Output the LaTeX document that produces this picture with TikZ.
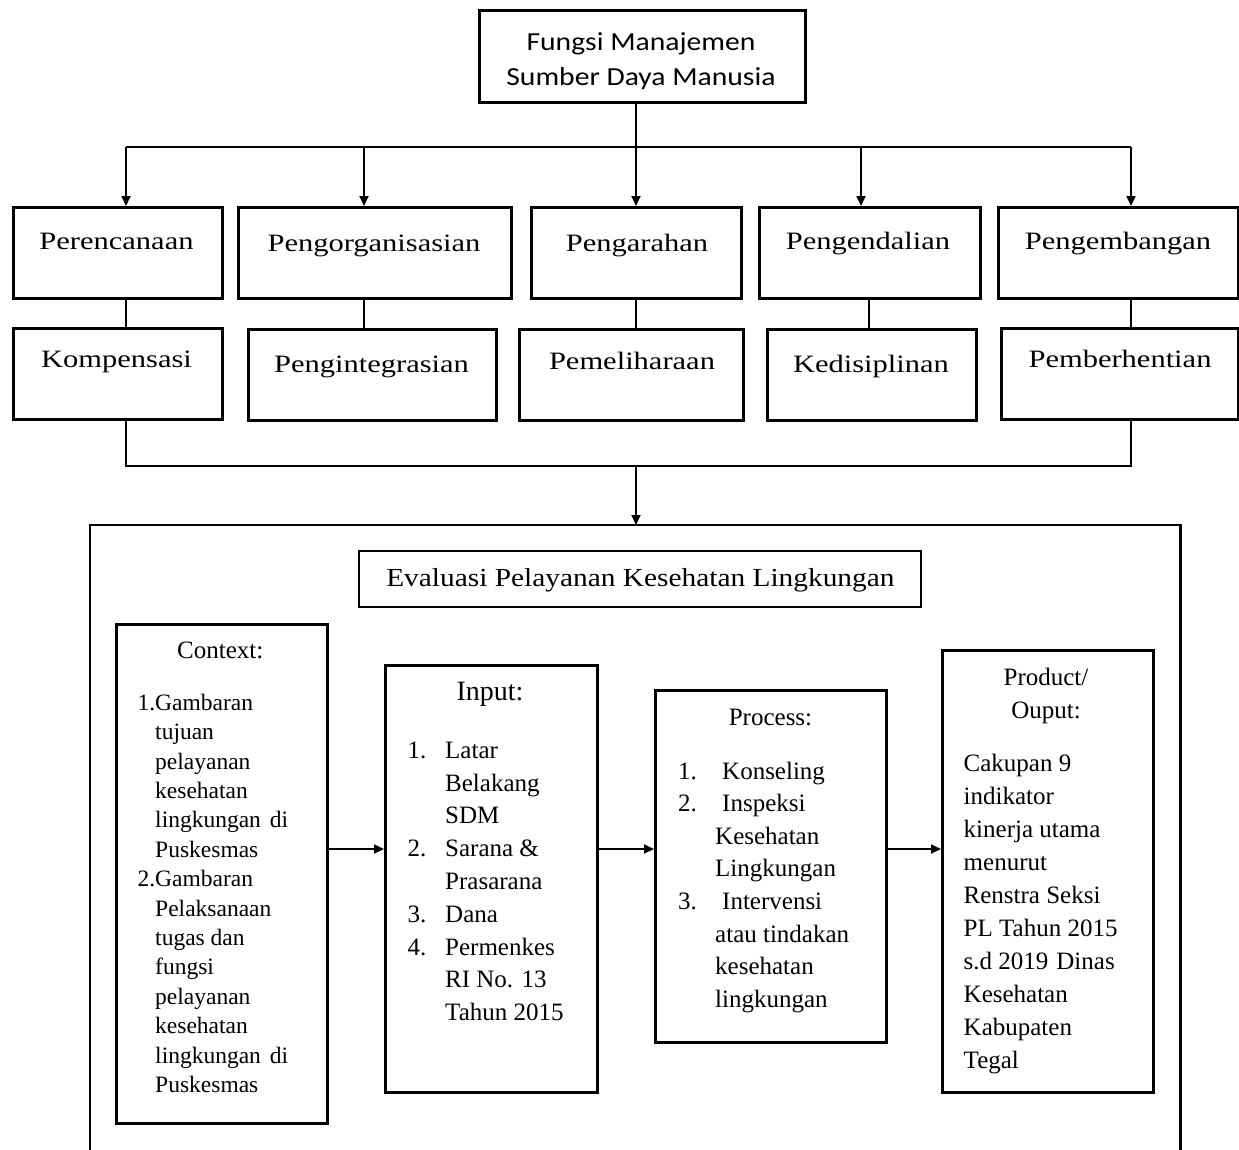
\documentclass[tikz,border=0pt]{standalone}
\usepackage{fontspec}
\setmainfont{Liberation Serif}
\newfontfamily\carl[FakeStretch=1.14]{Carlito}
\newfontfamily\wser[FakeStretch=1.22]{Liberation Serif}
\newfontfamily\tser[FakeStretch=1.13]{Liberation Serif}
\usetikzlibrary{arrows.meta}
\begin{document}
\begin{tikzpicture}[x=1pt,y=-1pt,
  box/.style={draw, line width=2.6pt, anchor=north west, inner sep=0pt},
  conn/.style={line width=1.8pt},
  thinconn/.style={line width=1.5pt},
  arr/.style={conn, -{Triangle[length=10pt,width=9pt]}},
  lbl/.style={anchor=base, inner sep=0pt, font=\wser\fontsize{25}{30}\selectfont},
  blk/.style={anchor=base west, inner sep=0pt},
  ttl/.style={anchor=base, inner sep=0pt},
]
\useasboundingbox (0,0) rectangle (1239,1149);

% ---------- top ----------
\node[box, minimum width=326pt, minimum height=92pt] (top) at (478,9) {};
\node[ttl, font=\carl\fontsize{26}{35}\selectfont] (topl1) at (641,50) {Fungsi Manajemen};
\node[ttl, font=\carl\fontsize{26}{35}\selectfont] (topl2) at (641,85) {Sumber Daya Manusia};

% ---------- row 1 ----------
\node[box, minimum width=209pt, minimum height=91pt] (per)   at (12,206) {};
\node[box, minimum width=273pt, minimum height=91pt] (porg)  at (237,206) {};
\node[box, minimum width=210pt, minimum height=91pt] (parah) at (530,206) {};
\node[box, minimum width=221pt, minimum height=91pt] (pend)  at (758,206) {};
\node[box, minimum width=240pt, minimum height=91pt] (pemb)  at (997,206) {};
\node[lbl] (lper)   at (116.5,249) {Perencanaan};
\node[lbl] (lporg)  at (374,251) {Pengorganisasian};
\node[lbl] (lparah) at (637,251) {Pengarahan};
\node[lbl] (lpend)  at (868,249) {Pengendalian};
\node[lbl] (lpemb)  at (1118,249) {Pengembangan};

% ---------- row 2 ----------
\node[box, minimum width=209pt, minimum height=91pt] (komp)  at (12,327) {};
\node[box, minimum width=248pt, minimum height=91pt] (pint)  at (247,328) {};
\node[box, minimum width=224pt, minimum height=91pt] (pmel)  at (518,328) {};
\node[box, minimum width=209pt, minimum height=91pt] (kedis) at (766,328) {};
\node[box, minimum width=237pt, minimum height=91pt] (pber)  at (1000,327) {};
\node[lbl] (lkomp)  at (116.5,367) {Kompensasi};
\node[lbl] (lpint)  at (371.5,372) {Pengintegrasian};
\node[lbl] (lpmel)  at (632,369) {Pemeliharaan};
\node[lbl] (lkedis) at (871,372) {Kedisiplinan};
\node[lbl] (lpber)  at (1120,367) {Pemberhentian};

% ---------- connectors top part ----------
\coordinate (b1) at (126,147);
\coordinate (b2) at (364,147);
\coordinate (trunk) at (636,147);
\coordinate (b4) at (861,147);
\coordinate (c4) at (869,147);
\coordinate (b5) at (1131,147);
\draw[conn] (b1) -- (b5);
\draw[arr] (top.south -| trunk) -- (trunk |- parah.north);
\draw[arr] (b1) -- (b1 |- per.north);
\draw[arr] (b2) -- (b2 |- porg.north);
\draw[arr] (b4) -- (b4 |- pend.north);
\draw[arr] (b5) -- (b5 |- pemb.north);

\draw[thinconn] (per.south -| b1) -- (komp.north -| b1);
\draw[thinconn] (porg.south -| b2) -- (pint.north -| b2);
\draw[thinconn] (parah.south -| trunk) -- (pmel.north -| trunk);
\draw[thinconn] (pend.south -| c4) -- (kedis.north -| c4);
\draw[thinconn] (pemb.south -| b5) -- (pber.north -| b5);

\coordinate (d1) at (126,466);
\coordinate (dm) at (636,466);
\coordinate (d5) at (1131,466);
\draw[conn] (komp.south -| d1) -- (d1) -- (d5) -- (pber.south -| d5);

% ---------- big frame ----------
\node[inner sep=0pt, minimum width=1090pt, minimum height=630pt, anchor=north west] (big) at (90,525) {};
\draw[line width=2.4pt] (big.south west) -- (big.north west) -- (big.north east) -- (big.south east);
\draw[arr] (dm) -- (big.north -| dm);

\node[box, line width=2.4pt, minimum width=562pt, minimum height=56pt] (title) at (358,550) {};
\node[ttl, font=\tser\fontsize{26}{30}\selectfont] (ltitle) at (640.4,586) {Evaluasi Pelayanan Kesehatan Lingkungan};

% ---------- CIPP boxes ----------
\node[box, minimum width=211pt, minimum height=499pt] (ctx)  at (115,623) {};
\node[box, minimum width=212pt, minimum height=427pt] (inp)  at (384,664) {};
\node[box, minimum width=231pt, minimum height=352pt] (proc) at (654,689) {};
\node[box, minimum width=211pt, minimum height=442pt] (prod) at (941,649) {};

% Context
\node[ttl, font=\fontsize{25}{30}\selectfont] (lctx) at (220.3,658.8) {Context:};
\node[blk, font=\fontsize{23.5}{29.4}\selectfont] (tctx) at (137.4,710.3) {%
\begin{tabular}[t]{@{}l@{}l@{}}
1.&Gambaran\\
  &tujuan\\
  &pelayanan\\
  &kesehatan\\
  &lingkungan\hspace{9pt}di\\
  &Puskesmas\\
2.&Gambaran\\
  &Pelaksanaan\\
  &tugas dan\\
  &fungsi\\
  &pelayanan\\
  &kesehatan\\
  &lingkungan\hspace{9pt}di\\
  &Puskesmas
\end{tabular}};

% Input
\node[ttl, font=\fontsize{28}{30}\selectfont] (linp) at (490,700) {Input:};
\node[blk, font=\fontsize{25}{32.8}\selectfont] (tinp) at (407.4,758.3) {%
\begin{tabular}[t]{@{}l@{}l@{}}
\makebox[37.6pt][l]{1.}&Latar\\
  &Belakang\\
  &SDM\\
2.&Sarana \&\\
  &Prasarana\\
3.&Dana\\
4.&Permenkes\\
  &RI No. 13\\
  &Tahun 2015
\end{tabular}};

% Process
\node[ttl, font=\fontsize{25}{30}\selectfont] (lproc) at (770.5,725.3) {Process:};
\node[blk, font=\fontsize{25}{32.6}\selectfont] (tproc) at (678,779) {%
\begin{tabular}[t]{@{}l@{}l@{}}
\makebox[37pt][l]{1.}&\hspace{7pt}Konseling\\
2.&\hspace{7pt}Inspeksi\\
  &Kesehatan\\
  &Lingkungan\\
3.&\hspace{7pt}Intervensi\\
  &atau tindakan\\
  &kesehatan\\
  &lingkungan
\end{tabular}};

% Product
\node[ttl, font=\fontsize{25}{32.5}\selectfont] (lprod) at (1046,685.8) {%
\begin{tabular}[t]{@{}c@{}}Product/\\Ouput:\end{tabular}};
\node[blk, font=\fontsize{25}{33}\selectfont] (tprod) at (963.5,771.6) {%
\begin{tabular}[t]{@{}l@{}}
Cakupan 9\\
indikator\\
kinerja utama\\
menurut\\
Renstra Seksi\\
PL Tahun 2015\\
s.d 2019\hspace{8pt}Dinas\\
Kesehatan\\
Kabupaten\\
Tegal
\end{tabular}};

% arrows between CIPP boxes
\coordinate (ay) at (0,849);
\draw[arr] (ctx.east |- ay) -- (inp.west |- ay);
\draw[arr] (inp.east |- ay) -- (proc.west |- ay);
\draw[arr] (proc.east |- ay) -- (prod.west |- ay);
\end{tikzpicture}
\end{document}
